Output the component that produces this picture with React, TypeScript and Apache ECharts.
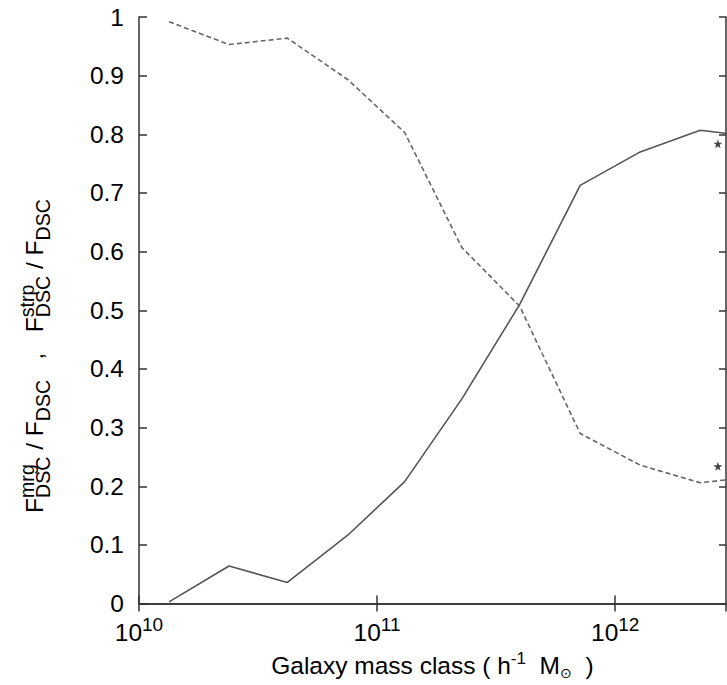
import { useEffect, useRef } from 'react';
import * as echarts from 'echarts';

// Galaxy mass classes (h^-1 Msun)
const massClasses = [1.337e10, 2.388e10, 4.198e10, 7.551e10, 1.306e11, 2.27e11, 3.972e11, 7.129e11, 1.274e12, 2.275e12, 3.98e12];
// F_DSC^mrg / F_DSC (solid)
const mergerFraction = [0.003, 0.064, 0.036, 0.117, 0.208, 0.349, 0.51, 0.713, 0.77, 0.807, 0.795];
// F_DSC^strp / F_DSC (dashed)
const strippingFraction = [0.992, 0.953, 0.964, 0.893, 0.803, 0.607, 0.507, 0.29, 0.236, 0.206, 0.217];
// star markers
const starMass = [2.7e12, 2.7e12];
const starValues = [0.784, 0.234];

const xMin = 1e10;
const xMax = 2.92e12;
const yMin = 0;
const yMax = 1;
const yInterval = 0.1;

const FONT = '"Liberation Sans", Arial, Helvetica, sans-serif';
const STAR = 'path://M50,0 L61,35 L98,35 L68,57 L79,91 L50,70 L21,91 L32,57 L2,35 L39,35 Z';

export default function App() {
  const ref = useRef<HTMLDivElement>(null);
  useEffect(() => {
    const chart = echarts.init(ref.current!, null, { renderer: 'svg' });
    const canvas = document.createElement('canvas');
    const ctx = canvas.getContext('2d')!;
    const measure = (t: string, s: number) => {
      ctx.font = `${s}px "Liberation Sans"`;
      return ctx.measureText(t).width;
    };
    const MAIN = 24.5;
    const SUB = 19.6;
    const SUP_OFF = -9;
    const SUB_OFF = 7;
    const pieces: { main?: string; sup?: string; sub?: string }[] = [
      { main: 'F' },
      { sup: 'mrg', sub: 'DSC' },
      { main: ' / F' },
      { sub: 'DSC' },
      { main: '   ,   F' },
      { sup: 'strp', sub: 'DSC' },
      { main: ' / F' },
      { sub: 'DSC' },
    ];
    const mk = (text: string, x: number, size: number, base: number) => ({
      type: 'text',
      x,
      y: base - 0.35 * size,
      style: {
        text,
        fontSize: size,
        fontFamily: FONT,
        fill: '#000',
        align: 'left',
        verticalAlign: 'middle',
      },
    });
    let pos = 0;
    const children: any[] = [];
    for (const p of pieces) {
      let adv = 0;
      if (p.main) {
        children.push(mk(p.main, pos, MAIN, 0));
        adv = Math.max(adv, measure(p.main, MAIN));
      }
      if (p.sup) {
        children.push(mk(p.sup, pos, SUB, SUP_OFF));
        adv = Math.max(adv, measure(p.sup, SUB));
      }
      if (p.sub) {
        children.push(mk(p.sub, pos, SUB, SUB_OFF));
        adv = Math.max(adv, measure(p.sub, SUB));
      }
      pos += adv;
    }
    const total = pos;

    const axisLineStyle = { color: '#333', width: 1.5 };
    const tickStyle = { color: '#333', width: 1.5 };

    const expFormatter = (v: number) => {
      const l = Math.log10(v);
      const e = Math.round(l);
      if (Math.abs(l - e) > 0.01) return '';
      return `{b|10}{s|${e}}`;
    };

    chart.setOption({
      animation: false,
      backgroundColor: '#fff',
      grid: { left: 139, top: 17, right: 1, bottom: 79, containLabel: false },
      xAxis: [
        {
          type: 'log',
          logBase: 10,
          min: xMin,
          max: xMax,
          position: 'bottom',
          axisLine: { show: true, lineStyle: axisLineStyle },
          axisTick: { show: true, inside: true, length: 8, lineStyle: tickStyle },
          minorTick: { show: false },
          splitLine: { show: false },
          axisLabel: {
            show: true,
            margin: 11,
            showMaxLabel: false,
            formatter: expFormatter,
            rich: {
              b: { fontSize: 24.5, fontFamily: FONT, color: '#000', lineHeight: 36, verticalAlign: 'middle' },
              s: { fontSize: 19, fontFamily: FONT, color: '#000', lineHeight: 16, verticalAlign: 'top' },
            },
          },
          name: 'Galaxy mass class ( h{sup|-1}  M{sub|⊙}  )',
          nameLocation: 'middle',
          nameGap: 44,
          nameTextStyle: {
            fontSize: 24.5,
            fontFamily: FONT,
            color: '#000',
            lineHeight: 30,
            rich: {
              sup: { fontSize: 17, fontFamily: FONT, color: '#000', lineHeight: 12, verticalAlign: 'top' },
              sub: { fontSize: 14, fontFamily: FONT, color: '#000', lineHeight: 12, verticalAlign: 'bottom' },
            },
          },
        },
        {
          type: 'log',
          logBase: 10,
          min: xMin,
          max: xMax,
          position: 'top',
          axisLine: { show: true, lineStyle: axisLineStyle },
          axisTick: { show: true, inside: true, length: 8, lineStyle: tickStyle },
          splitLine: { show: false },
          axisLabel: { show: false },
        },
      ],
      yAxis: [
        {
          type: 'value',
          min: yMin,
          max: yMax,
          interval: yInterval,
          position: 'left',
          axisLine: { show: true, lineStyle: axisLineStyle },
          axisTick: { show: true, inside: true, length: 8, lineStyle: tickStyle },
          splitLine: { show: false },
          axisLabel: { show: true, margin: 15, fontSize: 24.5, fontFamily: FONT, color: '#000' },
        },
        {
          type: 'value',
          min: yMin,
          max: yMax,
          interval: yInterval,
          position: 'right',
          axisLine: { show: true, lineStyle: axisLineStyle },
          axisTick: { show: true, inside: true, length: 7, lineStyle: tickStyle },
          splitLine: { show: false },
          axisLabel: { show: false },
        },
      ],
      graphic: [
        {
          type: 'group',
          x: 43,
          y: 356 + total / 2,
          rotation: Math.PI / 2,
          children,
        },
      ],
      series: [
        {
          type: 'line',
          name: 'merger',
          xAxisIndex: 0,
          yAxisIndex: 0,
          data: massClasses.map((m, i) => [m, mergerFraction[i]]),
          showSymbol: false,
          symbol: 'none',
          clip: true,
          lineStyle: { color: '#555', width: 1.6, type: 'solid' },
        },
        {
          type: 'line',
          name: 'stripping',
          xAxisIndex: 0,
          yAxisIndex: 0,
          data: massClasses.map((m, i) => [m, strippingFraction[i]]),
          showSymbol: false,
          symbol: 'none',
          clip: true,
          lineStyle: { color: '#666', width: 1.6, type: [5, 3] },
        },
        {
          type: 'scatter',
          name: 'stars',
          xAxisIndex: 0,
          yAxisIndex: 0,
          data: starMass.map((m, i) => [m, starValues[i]]),
          symbol: STAR,
          symbolSize: 9,
          itemStyle: { color: '#111' },
        },
      ],
    });
    return () => chart.dispose();
  }, []);
  return (
    <div
      ref={ref}
      style={{ position: 'fixed', left: 0, top: 0, width: 727, height: 685, background: '#fff' }}
    />
  );
}
